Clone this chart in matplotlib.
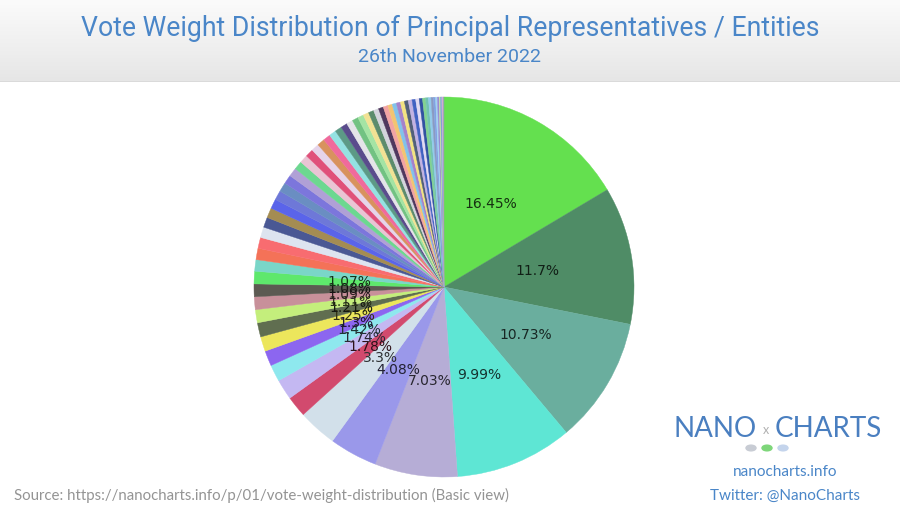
import matplotlib.pyplot as plt
import matplotlib.colors as mcolors
import numpy as np

# vote weight share (%) per representative / entity, largest first
main_weights = [16.45, 11.7, 10.73, 9.99, 7.03, 4.08, 3.3, 1.78, 1.74, 1.42,
                1.3, 1.25, 1.21, 1.11, 1.09, 1.08, 1.07]
small_weights = [0.98, 0.96, 0.93, 0.90, 0.86, 0.84, 0.82, 0.80, 0.78, 0.76,
                 0.74, 0.72, 0.70, 0.68, 0.66, 0.64, 0.62, 0.60, 0.58, 0.56,
                 0.54, 0.52, 0.50, 0.48, 0.46, 0.44, 0.42, 0.40, 0.38, 0.36,
                 0.35, 0.34, 0.33, 0.32, 0.31, 0.30, 0.28, 0.26, 0.24, 0.22,
                 0.20, 0.18, 0.16, 0.14, 0.12, 0.10, 0.08, 0.06, 0.05]
weights = main_weights + small_weights

main_colors = ['#64e04f', '#4f8c66', '#6aae9e', '#5ee6d4', '#b6add6', '#9a98ea',
               '#d2e0ea', '#d24a6e', '#c4b8f2', '#8ee8ee', '#8c66f0', '#ece65c',
               '#606e50', '#c4ee7c', '#c8909a', '#5c5a52', '#5ee86c']
small_colors = ['#7ad6c8', '#f47258', '#f86c70', '#dde4f0', '#4a5894', '#a48c52',
                '#5a64ea', '#6e78d8', '#6a8ec2', '#7c76dc', '#b0a0d6', '#6cd890',
                '#eac4d4', '#e0507a', '#e6d4ea', '#d8925e', '#f06a9c', '#94e2e2',
                '#5c9a86', '#5a4c8c', '#e4e4e8', '#72c282', '#a4e4a4', '#f2e294',
                '#5c8c6c', '#d4d4dc', '#50385e', '#f2a4a4', '#f2c472', '#82c2ea',
                '#a482ca', '#f2e282', '#52607a', '#c2b2e2', '#4262c2', '#e2daf2',
                '#3252a2', '#82d292', '#72c2b2', '#92caea', '#8a9ac2', '#82a2e2',
                '#a2d2f2', '#9a8ad2', '#c2e2a2', '#7a9ad2', '#b2b2e2', '#e2a2c2',
                '#92a2b2']
colors = main_colors + small_colors

title = 'Vote Weight Distribution of Principal Representatives / Entities'
subtitle = '26th November 2022'
source = 'Source: https://nanocharts.info/p/01/vote-weight-distribution (Basic view)'

blue = '#4a86c8'

fig = plt.figure(figsize=(9, 5.14), dpi=100)

# header band with soft grey gradient
hdr = fig.add_axes([0, 1 - 82 / 514, 1, 82 / 514])
grad = np.linspace(0, 1, 100).reshape(-1, 1)
cmap = mcolors.LinearSegmentedColormap.from_list('hdr', ['#fbfbfb', '#e6e6e6'])
hdr.imshow(grad, aspect='auto', cmap=cmap, extent=[0, 1, 0, 1])
hdr.axhline(0.005, color='#d8d8d8', lw=1.2)
hdr.set_axis_off()

fig.text(0.5, 1 - 28 / 514, title, ha='center', va='center', color=blue,
         fontsize=19.2, family='Roboto')
fig.text(0.5, 1 - 57 / 514, subtitle, ha='center', va='center', color=blue,
         fontsize=14, family='Roboto')

# the pie itself
ax = fig.add_axes([254 / 900, 37 / 514, 380 / 900, 380 / 514])
it = iter(weights)


def fmt(pct):
    v = next(it)
    return f'{v:g}%' if v >= 1 else ''


wedges, _, autotexts = ax.pie(weights, colors=colors, startangle=90, counterclock=False,
                              autopct=fmt, pctdistance=0.5,
                              wedgeprops=dict(linewidth=0.3),
                              textprops=dict(fontsize=10))
for w, c in zip(wedges, colors):
    w.set_edgecolor(c)
for t, c in zip(autotexts, colors):
    rgb = np.array(mcolors.to_rgb(c)) * 0.22
    t.set_color(rgb)
ax.set_xlim(-1, 1)
ax.set_ylim(-1, 1)
ax.set_aspect('equal')
ax.set_axis_off()

fig.text(14 / 900, 1 - 495 / 514, source, ha='left', va='center', color='#949494',
         fontsize=10.8, family='Lato')

# logo area
fig.text(757 / 900, 1 - 429 / 514, 'NANO', ha='right', va='center', color='#4a7fc0',
         fontsize=20, family='Lato')
fig.text(766 / 900, 1 - 430 / 514, 'x', ha='center', va='center', color='#b0b0b0',
         fontsize=9, family='Lato')
fig.text(775 / 900, 1 - 429 / 514, 'CHARTS', ha='left', va='center', color='#4a7fc0',
         fontsize=20, family='Lato')
icon_colors = ['#c8ccd4', '#7ed67a', '#c4d4ec']
for i, c in enumerate(icon_colors):
    fig.patches.append(plt.Circle(((751 + 16 * i) / 900, 1 - 448 / 514), 5 / 900,
                                  transform=fig.transFigure, color=c,
                                  figure=fig))
fig.text(785 / 900, 1 - 472 / 514, 'nanocharts.info', ha='center', va='center',
         color=blue, fontsize=11, family='Lato')
fig.text(785 / 900, 1 - 496 / 514, 'Twitter: @NanoCharts', ha='center', va='center',
         color=blue, fontsize=11, family='Lato')

fig.savefig('out.png', dpi=100)
